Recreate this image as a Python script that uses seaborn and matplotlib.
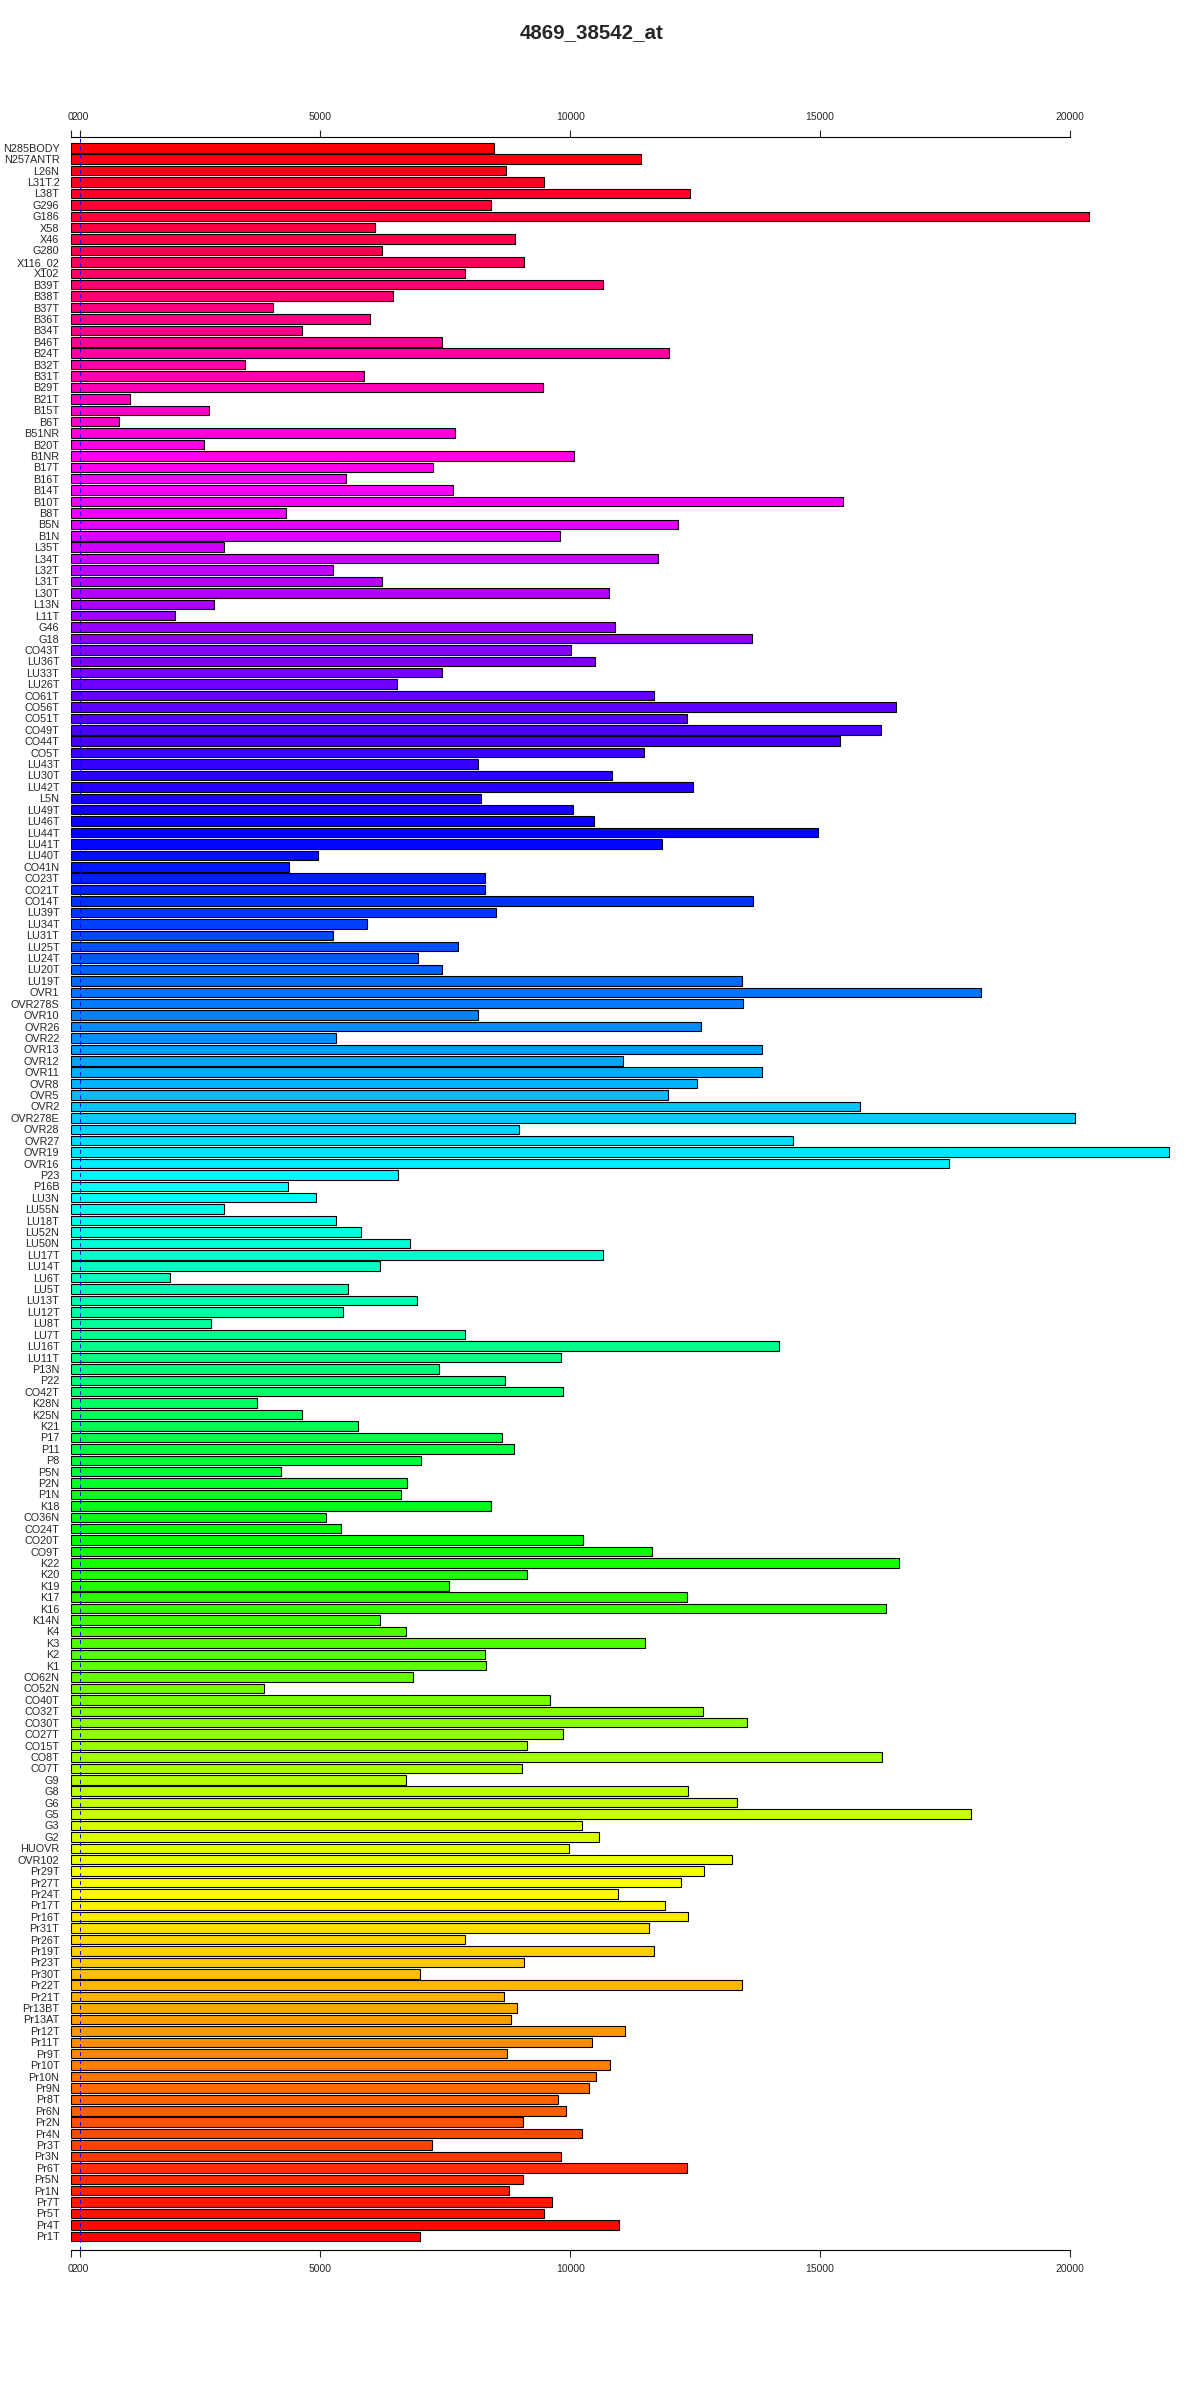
import numpy as np
import pandas as pd
import matplotlib
matplotlib.use("Agg")
import matplotlib.pyplot as plt
import matplotlib.colors as mcolors
import seaborn as sns

title = "4869_38542_at"

# sample names, top to bottom
samples = [
    "N285BODY", "N257ANTR", "L26N", "L31T.2", "L38T", "G296", "G186", "X58", "X46", "G280",
    "X116_02", "X102", "B39T", "B38T", "B37T", "B36T", "B34T", "B46T", "B24T", "B32T",
    "B31T", "B29T", "B21T", "B15T", "B6T", "B51NR", "B20T", "B1NR", "B17T", "B16T",
    "B14T", "B10T", "B8T", "B5N", "B1N", "L35T", "L34T", "L32T", "L31T", "L30T",
    "L13N", "L11T", "G46", "G18", "CO43T", "LU36T", "LU33T", "LU26T", "CO61T", "CO56T",
    "CO51T", "CO49T", "CO44T", "CO5T", "LU43T", "LU30T", "LU42T", "L5N", "LU49T", "LU46T",
    "LU44T", "LU41T", "LU40T", "CO41N", "CO23T", "CO21T", "CO14T", "LU39T", "LU34T", "LU31T",
    "LU25T", "LU24T", "LU20T", "LU19T", "OVR1", "OVR278S", "OVR10", "OVR26", "OVR22", "OVR13",
    "OVR12", "OVR11", "OVR8", "OVR5", "OVR2", "OVR278E", "OVR28", "OVR27", "OVR19", "OVR16",
    "P23", "P16B", "LU3N", "LU55N", "LU18T", "LU52N", "LU50N", "LU17T", "LU14T", "LU6T",
    "LU5T", "LU13T", "LU12T", "LU8T", "LU7T", "LU16T", "LU11T", "P13N", "P22", "CO42T",
    "K28N", "K25N", "K21", "P17", "P11", "P8", "P5N", "P2N", "P1N", "K18",
    "CO36N", "CO24T", "CO20T", "CO9T", "K22", "K20", "K19", "K17", "K16", "K14N",
    "K4", "K3", "K2", "K1", "CO62N", "CO52N", "CO40T", "CO32T", "CO30T", "CO27T",
    "CO15T", "CO8T", "CO7T", "G9", "G8", "G6", "G5", "G3", "G2", "HUOVR",
    "OVR102", "Pr29T", "Pr27T", "Pr24T", "Pr17T", "Pr16T", "Pr31T", "Pr26T", "Pr19T", "Pr23T",
    "Pr30T", "Pr22T", "Pr21T", "Pr13BT", "Pr13AT", "Pr12T", "Pr11T", "Pr9T", "Pr10T", "Pr10N",
    "Pr9N", "Pr8T", "Pr6N", "Pr2N", "Pr4N", "Pr3T", "Pr3N", "Pr6T", "Pr5N", "Pr1N",
    "Pr7T", "Pr5T", "Pr4T", "Pr1T",
]

expression = [
    8484, 11409, 8714, 9479, 12389, 8407, 20383, 6095, 8897, 6233,
    9066, 7887, 10659, 6463, 4058, 6003, 4625, 7443, 11976, 3492,
    5881, 9464, 1194, 2772, 980, 7703, 2680, 10077, 7244, 5513,
    7657, 15452, 4303, 12159, 9786, 3078, 11761, 5253, 6233, 10766,
    2864, 2098, 10904, 13629, 10015, 10505, 7427, 6524, 11685, 16524,
    12343, 16218, 15391, 11486, 8162, 10827, 12466, 8208, 10046, 10475,
    14962, 11838, 4946, 4364, 8285, 8285, 13660, 8515, 5927, 5253,
    7764, 6953, 7427, 13430, 18224, 13461, 8147, 12619, 5314, 13829,
    11057, 13844, 12527, 11960, 15789, 20107, 8974, 14456, 21991, 17580,
    6554, 4349, 4916, 3063, 5314, 5804, 6799, 10659, 6202, 1991,
    5544, 6937, 5452, 2818, 7902, 14181, 9816, 7381, 8698, 9862,
    3737, 4640, 5758, 8637, 8867, 7014, 4211, 6738, 6616, 8423,
    5115, 5406, 10260, 11639, 16585, 9142, 7580, 12343, 16325, 6187,
    6708, 11501, 8285, 8315, 6845, 3874, 9602, 12649, 13538, 9847,
    9142, 16248, 9035, 6708, 12358, 13338, 18025, 10245, 10582, 9985,
    13247, 12680, 12221, 10950, 11899, 12358, 11577, 7887, 11685, 9066,
    6999, 13446, 8668, 8928, 8821, 11103, 10444, 8744, 10796, 10520,
    10367, 9753, 9906, 9048, 10244, 7238, 9814, 12329, 9048, 8772,
    9630, 9477, 10980, 6993,
]

x_ticks = [0, 200, 5000, 10000, 15000, 20000]
cutoff = 200

df = pd.DataFrame({"sample": samples, "value": expression})
n = len(df)

# rainbow palette, red at the bottom bar going up through yellow, green, blue, magenta
hues = [(n - 1 - i) / n for i in range(n)]
colors = {s: mcolors.hsv_to_rgb((h, 1, 1)) for s, h in zip(samples, hues)}

sns.set_style("white")
plt.rcParams["font.family"] = ["Liberation Sans", "DejaVu Sans"]

fig = plt.figure(figsize=(12, 24), dpi=100)
ax = fig.add_axes([70.5 / 1200, 1 - 2250 / 2400, 1124.4 / 1200, (2250 - 136.7) / 2400])

sns.barplot(data=df, x="value", y="sample", hue="sample", palette=colors, legend=False,
            orient="h", width=0.83, edgecolor="black", linewidth=0.8, saturation=1, ax=ax)
ax.axvline(cutoff, color="blue", linestyle=(0, (4, 4)), linewidth=0.7, zorder=5)

ax.set_xlim(0, 22500)
ax.set_ylim(n - 1 + 1.2, -0.97)
ax.set_xticks(x_ticks)
ax.set_xticklabels([str(t) for t in x_ticks])
ax.tick_params(axis="x", top=True, labeltop=True, bottom=True, labelbottom=True,
               direction="out", length=5.3, width=0.8, pad=5, labelsize=7.5)
ax.tick_params(axis="y", length=0, pad=8, labelsize=7.8)
for side in ["left", "right"]:
    ax.spines[side].set_visible(False)
for side in ["top", "bottom"]:
    ax.spines[side].set_bounds(0, 20000)
    ax.spines[side].set_linewidth(0.8)
    ax.spines[side].set_color("black")
ax.set_xlabel("")
ax.set_ylabel("")

fig.suptitle(title, x=592 / 1200, y=1 - 33 / 2400, va="center", fontsize=14.8, fontweight="bold")

fig.savefig("out.png", dpi=100)
